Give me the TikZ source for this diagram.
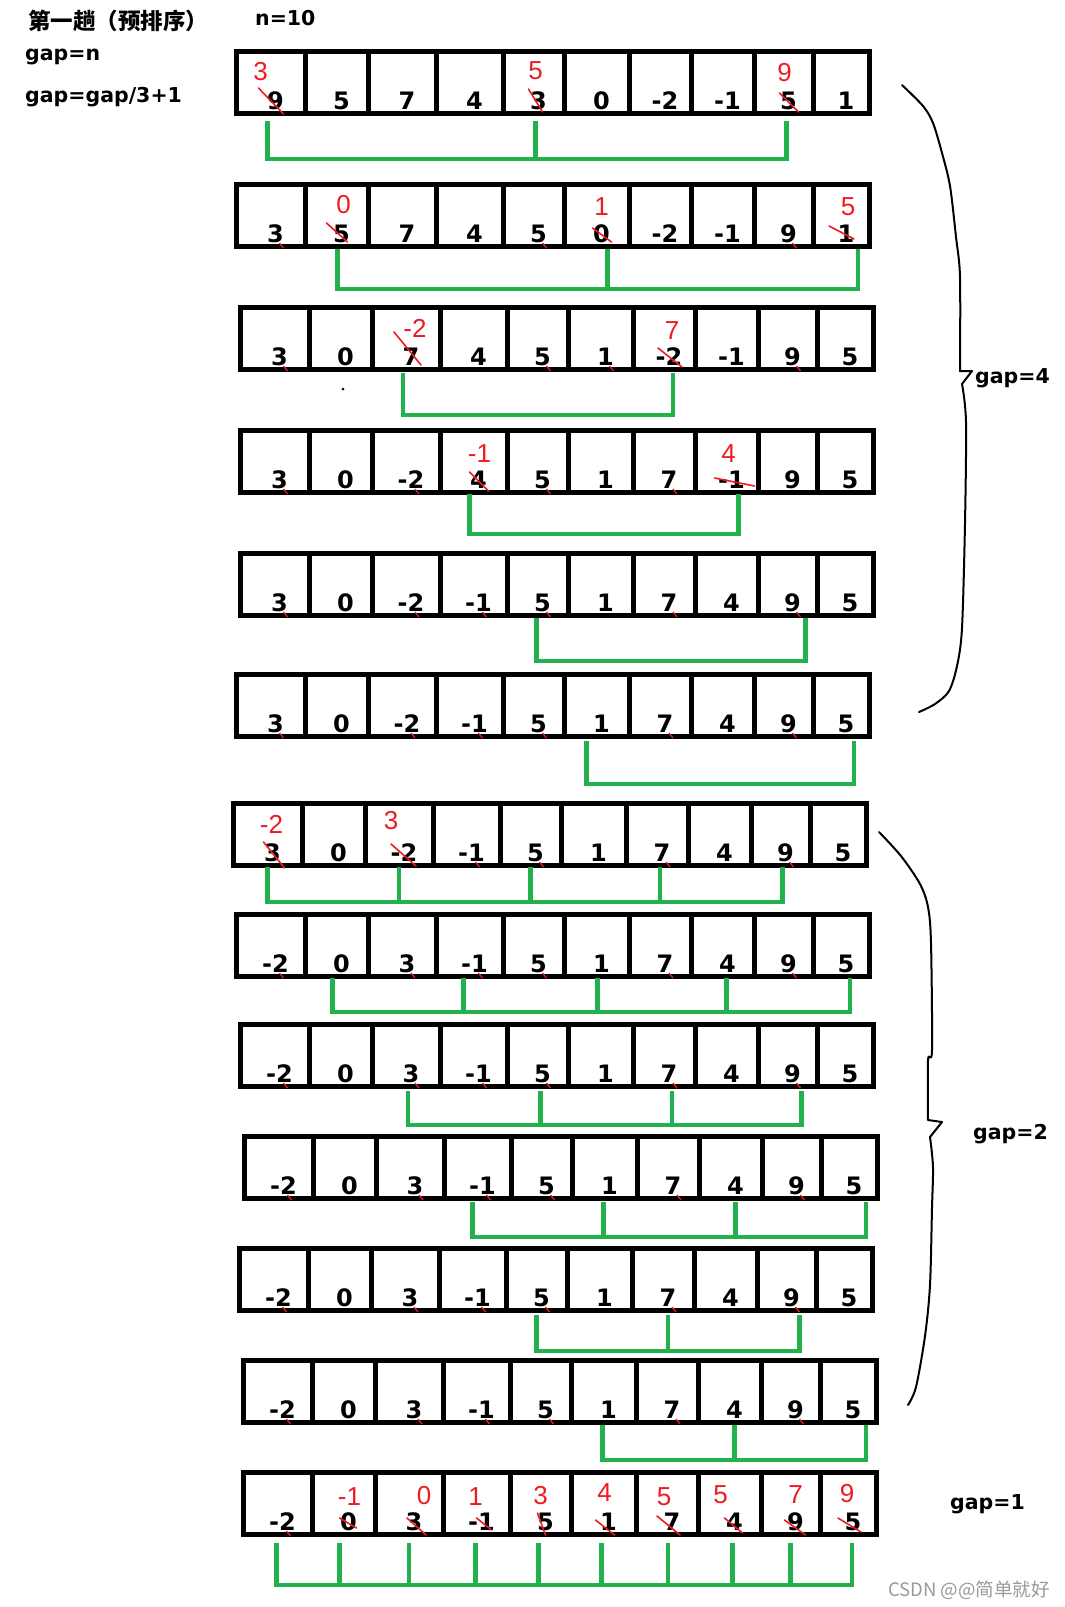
\documentclass[tikz,border=0pt]{standalone}
\usepackage{fontspec}
\setmainfont{DejaVu Sans}
\newfontfamily\cjk{Noto Sans CJK SC}
\newfontfamily\redf{Liberation Sans}
\usetikzlibrary{calc}
\definecolor{pgreen}{HTML}{22B14C}
\definecolor{pred}{HTML}{ED1C24}
\tikzset{
 cellbox/.style={draw, line width=5pt, minimum height=62pt, inner sep=0pt, outer sep=0pt, anchor=north west},
 num/.style={font=\fontsize{24}{24}\selectfont\bfseries, inner sep=0pt, anchor=base},
 lbl/.style={font=\fontsize{20.5}{24}\selectfont\bfseries, inner sep=0pt, anchor=base west},
 grn/.style={draw=pgreen, line width=4.5pt, line cap=rect},
 redmark/.style={draw=pred, line width=1.6pt, line cap=round},
 rednum/.style={text=pred, font=\redf\fontsize{26}{26}\selectfont, inner sep=0pt},
 bracecurve/.style={draw, line width=2pt, line join=round, line cap=round}
}
% one array row: #1 id, #2 x, #3 y, #4 values
\newcommand\arrrow[4]{%
 \foreach \v [count=\i from 0] in {#4} {
   \pgfmathsetmacro\cxl{{0,69,132,200,267,328,393,455,518,577,633}[\i]}
   \pgfmathsetmacro\cxr{{0,69,132,200,267,328,393,455,518,577,633}[\i+1]}
   \pgfmathsetmacro\cellw{\cxr-\cxl}
   \node[cellbox, minimum width=\cellw pt] (r#1c\i) at (#2+\cxl,#3) {};
   \node[num] (t#1c\i) at ($(r#1c\i.south)+(5,-4)$) {\v};
 }}
% green bracket: #1 row, #2 ytop, #3 ybottom, #4 first dx, #5 first col, #6 last dx, #7 last col, #8 all col/dx
\newcommand\gbr[8]{%
 \coordinate (gt#1) at (0,#2);
 \coordinate (gb#1) at (0,#3);
 \draw[grn] ([xshift=#4pt]r#1c#5 |- gb#1) -- ([xshift=#6pt]r#1c#7 |- gb#1);
 \foreach \c/\d in {#8} {\draw[grn] ([xshift=\d pt]r#1c\c |- gt#1) -- ([xshift=\d pt]r#1c\c |- gb#1);}
}
% red correction: row, col, new value, label dx, dy, slash x1,y1,x2,y2
\newcommand\fixv[9]{%
 \node[rednum] (a#1c#2) at ($(t#1c#2.base)+(#4,#5)$) {#3};
 \draw[redmark] ($(t#1c#2.base)+(#6,#7)$) -- ($(t#1c#2.base)+(#8,#9)$);
}
% small red tick under a digit: row, list of cols
\newcommand\rticks[2]{%
 \foreach \c in {#2} {\draw[pred, line width=1.3pt] ($(t#1c\c.base)+(4,1)$) -- ($(t#1c\c.base)+(8,6)$);}
}
\begin{document}
\begin{tikzpicture}[x=1pt,y=-1pt]
\fill[white] (0,0) rectangle (1065,1607);
\useasboundingbox (0,0) rectangle (1065,1607);

% header texts
\node[anchor=base west, inner sep=0pt, font=\cjk\bfseries\fontsize{22.5}{24}\selectfont] (title) at (28,29) {第一趟（预排序）};
\node[lbl] (nlbl) at (255,25) {n=10};
\node[lbl] (g0) at (25,60) {gap=n};
\node[lbl] (g1) at (25,102) {gap=gap/3+1};

% arrays
\arrrow{1}{236}{51}{9,5,7,4,3,0,-2,-1,5,1}
\arrrow{2}{236}{184}{3,5,7,4,5,0,-2,-1,9,1}
\arrrow{3}{240}{307}{3,0,7,4,5,1,-2,-1,9,5}
\arrrow{4}{240}{430}{3,0,-2,4,5,1,7,-1,9,5}
\arrrow{5}{240}{553}{3,0,-2,-1,5,1,7,4,9,5}
\arrrow{6}{236}{674}{3,0,-2,-1,5,1,7,4,9,5}
\arrrow{7}{233}{803}{3,0,-2,-1,5,1,7,4,9,5}
\arrrow{8}{236}{914}{-2,0,3,-1,5,1,7,4,9,5}
\arrrow{9}{240}{1024}{-2,0,3,-1,5,1,7,4,9,5}
\arrrow{10}{244}{1136}{-2,0,3,-1,5,1,7,4,9,5}
\arrrow{11}{239}{1248}{-2,0,3,-1,5,1,7,4,9,5}
\arrrow{12}{243}{1360}{-2,0,3,-1,5,1,7,4,9,5}
\arrrow{13}{243}{1472}{-2,0,3,-1,5,1,7,4,9,5}

% green brackets
\gbr{1}{123}{159}{-3}{0}{3}{8}{0/-3,4/2,8/3}
\gbr{2}{251}{289}{1}{1}{17}{9}{1/1,5/11,9/17}
\gbr{3}{375}{415}{-3}{2}{9}{6}{2/-3,6/9}
\gbr{4}{496}{534}{-4}{3}{12}{7}{3/-4,7/12}
\gbr{5}{620}{661}{-1}{4}{18}{8}{4/-1,8/18}
\gbr{6}{743}{784}{-10}{5}{13}{9}{5/-10,9/13}
\gbr{7}{869}{902}{0}{0}{2}{8}{0/0,2/0,4/0,6/3,8/2}
\gbr{8}{980}{1012}{-4}{1}{9}{9}{1/-4,3/-6,5/1,7/4,9/9}
\gbr{9}{1093}{1125}{2}{2}{14}{8}{2/2,4/3,6/8,8/14}
\gbr{10}{1204}{1237}{-5}{3}{17}{9}{3/-5,5/-1,7/5,9/17}
\gbr{11}{1317}{1351}{0}{4}{13}{8}{4/0,6/5,8/13}
\gbr{12}{1427}{1460}{-1}{5}{18}{9}{5/-1,7/5,9/18}
\gbr{13}{1545}{1585}{-1}{0}{4}{9}{0/-1,1/-4,2/0,3/-1,4/-2,5/-2,6/1,7/3,8/0,9/4}

% red corrections
\fixv{1}{0}{3}{-15}{-37}{-17}{-21}{8}{5}
\fixv{1}{4}{5}{-3}{-38}{-10}{-20}{4}{3}
\fixv{1}{8}{9}{-4}{-36}{-9}{-16}{10}{3}
\fixv{2}{1}{0}{2}{-37}{-15}{-19}{6}{0}
\fixv{2}{5}{1}{0}{-35}{-9}{-14}{10}{0}
\fixv{2}{9}{5}{2}{-35}{-17}{-16}{8}{-3}
\fixv{3}{2}{-2}{4}{-37}{-17}{-33}{10}{0}
\fixv{3}{6}{7}{3}{-34}{-11}{-17}{13}{2}
\fixv{4}{3}{-1}{1}{-34}{-9}{-16}{10}{3}
\fixv{4}{7}{4}{-3}{-34}{-17}{-10}{23}{-2}
\fixv{7}{0}{-2}{-1}{-37}{-9}{-19}{12}{7}
\fixv{7}{2}{3}{-13}{-40}{-13}{-17}{12}{5}
\fixv{13}{1}{-1}{1}{-33}{-9}{-12}{8}{-2}
\fixv{13}{2}{0}{10}{-34}{-7}{-12}{12}{5}
\fixv{13}{3}{1}{-6}{-33}{-5}{-12}{10}{0}
\fixv{13}{4}{3}{-5}{-34}{-8}{-17}{0}{5}
\fixv{13}{5}{4}{-4}{-37}{-13}{-10}{6}{5}
\fixv{13}{6}{5}{-8}{-33}{-15}{-14}{8}{5}
\fixv{13}{7}{5}{-14}{-35}{-10}{-12}{8}{3}
\fixv{13}{8}{7}{0}{-35}{-11}{-10}{10}{5}
\fixv{13}{9}{9}{-6}{-36}{-15}{-12}{8}{2}

% small red ticks
\rticks{2}{0,4,8}
\rticks{3}{0,4,5,8}
\rticks{4}{0,2,4,6}
\rticks{5}{0,2,3,4,6,8}
\rticks{6}{0,2,3,4,6,8}
\rticks{7}{3,4,6,8}
\rticks{8}{0,2,3,4,6,8}
\rticks{9}{0,2,3,4,6,8}
\rticks{10}{0,2,3,4,6,8}
\rticks{11}{0,2,3,4,6,8}
\rticks{12}{0,2,3,4,6,8}
\rticks{13}{0}

% stray dot
\fill (343,389) circle (1.5);

% braces
\draw[bracecurve] plot[smooth, tension=0.5] coordinates {(902,85) (923,106) (933,123) (942,153) (950,186) (956,237) (960,277) (960,371)}
  -- (972,371) -- (962,384)
  plot[smooth, tension=0.5] coordinates {(962,384) (966,422) (965,523) (962,628) (957,666) (949,691) (935,704) (919,712)};
\node[lbl] (gap4) at (975,383) {gap=4};

\draw[bracecurve] plot[smooth, tension=0.5] coordinates {(879,832) (901,856) (920,884) (928,907) (931,943) (932,1050) (928,1060) (928,1120)}
  -- (942,1122) -- (930,1137)
  plot[smooth, tension=0.5] coordinates {(930,1137) (933,1167) (932,1208) (930,1285) (925,1336) (916,1387) (908,1405)};
\node[lbl] (gap2) at (973,1139) {gap=2};
\node[lbl] (gap1) at (950,1509) {gap=1};

% watermark
\node[anchor=base west, inner sep=0pt, text=black!40, font=\cjk\fontsize{18.5}{20}\selectfont] (wm) at (888,1596) {CSDN @@简单就好};
\end{tikzpicture}
\end{document}
